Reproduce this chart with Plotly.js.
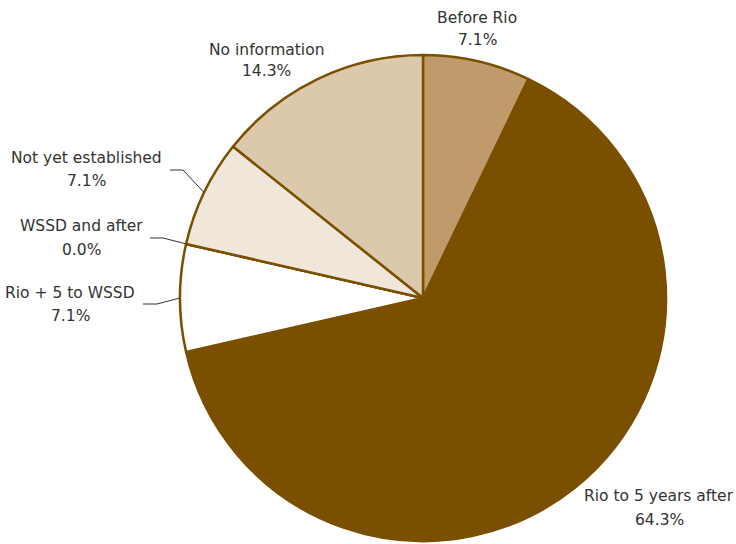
<!DOCTYPE html>
<html>
<head>
<meta charset="utf-8">
<script src="https://cdn.plot.ly/plotly-3.0.1.min.js"></script>
<style>html,body{margin:0;padding:0;background:#fff;}#chart{width:736px;height:544px;}</style>
</head>
<body>
<div id="chart"></div>
<script>
// ---- data ----
const categories = ["Before Rio", "Rio to 5 years after", "Rio + 5 to WSSD", "WSSD and after", "Not yet established", "No information"];
const counts = [1, 9, 1, 0, 1, 2];
const sliceColors = ["#BF9B6B", "#7A4F00", "#FFFFFF", "#FFFFFF", "#F0E6D9", "#DCC8AA"];

// ---- layout / style ----
const W = 736, H = 544;
const cx = 423, cy = 298, R = 243;
const FONT = "DejaVu Sans, Verdana, sans-serif";
const TXT = "#333333";
// label centres (name line, percent line) and optional leader elbows
const labelPos = [
  {x: 477, y1: 18, y2: 40},
  {x: 659, y1: 496, y2: 520},
  {x: 70, y1: 293, y2: 316, lead: [[143, 304], [157, 304]]},
  {x: 81, y1: 226, y2: 250, lead: [[150, 238], [163, 238]]},
  {x: 86, y1: 158, y2: 181, lead: [[170, 170], [183, 170]]},
  {x: 266, y1: 50, y2: 71}
];

const total = counts.reduce((a, b) => a + b, 0);
const pct = counts.map(v => (v / total * 100).toFixed(1) + "%");

const pie = {
  type: "pie",
  labels: categories,
  values: counts,
  sort: false,
  direction: "clockwise",
  rotation: 0,
  textinfo: "none",
  hoverinfo: "label+percent",
  showlegend: false,
  marker: {colors: sliceColors, line: {color: "#7A4F00", width: 2.5}},
  domain: {x: [(cx - R) / W, (cx + R) / W], y: [(H - cy - R) / H, (H - cy + R) / H]}
};

const annotations = [];
const shapes = [];
let cum = 0;
categories.forEach((c, i) => {
  const mid = (cum + counts[i] / 2) / total * 2 * Math.PI;
  cum += counts[i];
  const p = labelPos[i];
  annotations.push({xref: "x", yref: "y", x: p.x, y: p.y1, text: c, showarrow: false,
    xanchor: "center", yanchor: "middle", font: {family: FONT, size: 15.5, color: TXT}});
  annotations.push({xref: "x", yref: "y", x: p.x, y: p.y2, text: pct[i], showarrow: false,
    xanchor: "center", yanchor: "middle", font: {family: FONT, size: 15.5, color: TXT}});
  if (p.lead) {
    const tx = cx + R * Math.sin(mid), ty = cy - R * Math.cos(mid);
    const path = "M" + p.lead[0][0] + "," + p.lead[0][1] + " L" + p.lead[1][0] + "," + p.lead[1][1] + " L" + tx.toFixed(1) + "," + ty.toFixed(1);
    shapes.push({type: "path", xref: "x", yref: "y", path: path, line: {color: TXT, width: 1}, layer: "above"});
  }
});

const layout = {
  width: W, height: H,
  margin: {l: 0, r: 0, t: 0, b: 0},
  paper_bgcolor: "#fff", plot_bgcolor: "rgba(0,0,0,0)",
  xaxis: {range: [0, W], visible: false, fixedrange: true},
  yaxis: {range: [H, 0], visible: false, fixedrange: true},
  annotations: annotations,
  shapes: shapes,
  font: {family: FONT, color: TXT}
};

Plotly.newPlot("chart", [pie], layout, {displayModeBar: false, staticPlot: true});
</script>
</body>
</html>
